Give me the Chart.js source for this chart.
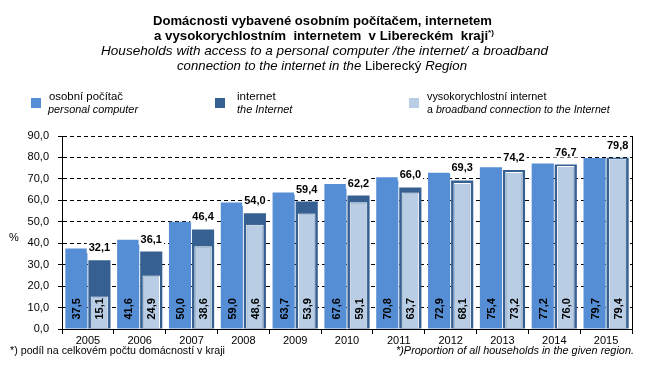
<!DOCTYPE html>
<html>
<head>
<meta charset="utf-8">
<script src="https://cdn.jsdelivr.net/npm/chart.js@4/dist/chart.umd.min.js"></script>
<style>
  html, body { margin:0; padding:0; background:#fff; }
  #wrap { position:relative; width:655px; height:375px; overflow:hidden; font-family:"Liberation Sans", Arial, sans-serif; color:#000; }
  canvas { position:absolute; left:0; top:0; }
  .t { position:absolute; white-space:pre; line-height:1; display:inline-block; transform-origin:0 0; }
  .b { font-weight:bold; }
  .i { font-style:italic; }
  .n { font-style:normal; }
  .sq { position:absolute; width:10px; height:10px; }
  sup { font-size:8px; vertical-align:0; position:relative; top:-5px; }
</style>
</head>
<body>
<div id="wrap">
  <canvas id="c" width="655" height="375"></canvas>

  <div class="t b" style="left:152.7px;top:14px;font-size:13px" data-w="339">Domácnosti vybavené osobním počítačem, internetem</div>
  <div class="t b" style="left:154px;top:29px;font-size:13px" data-w="340">a vysokorychlostním  internetem  v Libereckém  kraji<sup>*)</sup></div>
  <div class="t i" style="left:100.7px;top:44px;font-size:13px" data-w="447">Households with access to a personal computer /the internet/ a broadband</div>
  <div class="t i" style="left:177px;top:59px;font-size:13px" data-w="290">connection to the internet in the <span class="n">Liberecký</span> Region</div>

  <div class="sq" style="left:31px;top:98px;background:#558ED5"></div>
  <div class="t" style="left:49.3px;top:90.7px;font-size:11px" data-w="74">osobní počítač</div>
  <div class="t i" style="left:48.3px;top:104px;font-size:11px" data-w="90">personal computer</div>

  <div class="sq" style="left:215px;top:98px;background:#376092"></div>
  <div class="t" style="left:237.3px;top:90.7px;font-size:11px" data-w="38.7">internet</div>
  <div class="t i" style="left:237.3px;top:104px;font-size:11px" data-w="55.4">the Internet</div>

  <div class="sq" style="left:409px;top:98px;background:#B9CDE5"></div>
  <div class="t" style="left:427.3px;top:90.7px;font-size:11px" data-w="119.4">vysokorychlostní internet</div>
  <div class="t" style="left:427.3px;top:104px;font-size:11px" data-w="182.7">a <span class="i">broadband connection to the Internet</span></div>

  <div class="t" style="left:9px;top:231.7px;font-size:11px">%</div>

  <div class="t" style="left:10.4px;top:345px;font-size:10.5px" data-w="215">*) podíl na celkovém počtu domácností v kraji</div>
  <div class="t i" style="left:396px;top:345px;font-size:10.5px" data-w="238">*)Proportion of all households in the given region.</div>
</div>
<script>
// ---- data ----
const years = ['2005','2006','2007','2008','2009','2010','2011','2012','2013','2014','2015'];
const pcValues = [37.5, 41.6, 50.0, 59.0, 63.7, 67.6, 70.8, 72.9, 75.4, 77.2, 79.7];
const internetValues = [32.1, 36.1, 46.4, 54.0, 59.4, 62.2, 66.0, 69.3, 74.2, 76.7, 79.8];
const broadbandValues = [15.1, 24.9, 38.6, 48.6, 53.9, 59.1, 63.7, 68.1, 73.2, 76.0, 79.4];
const yMin = 0, yMax = 90, yStep = 10;

const fmt = v => v.toFixed(1).replace('.', ',');

// fit text widths
document.querySelectorAll('.t[data-w]').forEach(el => {
  const w = el.getBoundingClientRect().width;
  const target = parseFloat(el.dataset.w);
  if (w > 0) el.style.transform = 'scaleX(' + (target / w) + ')';
});

const FONT = '"Liberation Sans", Arial, sans-serif';

const valueLabels = {
  id: 'valueLabels',
  afterDatasetsDraw(chart) {
    const ctx = chart.ctx;
    ctx.save();
    ctx.font = 'bold 11px ' + FONT;
    [[0, pcValues], [2, broadbandValues]].forEach(([di, vals]) => {
      chart.getDatasetMeta(di).data.forEach((bar, i) => {
        ctx.save();
        ctx.fillStyle = '#000';
        ctx.translate(bar.x + 1, bar.base - 9);
        ctx.rotate(-Math.PI / 2);
        ctx.textAlign = 'left';
        ctx.textBaseline = 'middle';
        ctx.fillText(fmt(vals[i]), 0, 0);
        ctx.restore();
      });
    });
    chart.getDatasetMeta(1).data.forEach((bar, i) => {
      const txt = fmt(internetValues[i]);
      const w = ctx.measureText(txt).width;
      const bx = bar.x, by = bar.y - 9;
      ctx.fillStyle = '#fff';
      ctx.fillRect(bx - w / 2 - 2, by - 10, w + 4, 12);
      ctx.fillStyle = '#000';
      ctx.textAlign = 'center';
      ctx.textBaseline = 'alphabetic';
      ctx.fillText(txt, bx, by);
    });
    ctx.restore();
  }
};

const frame = {
  id: 'frame',
  afterDraw(chart) {
    const {ctx, chartArea} = chart;
    ctx.save();
    ctx.strokeStyle = '#000';
    ctx.lineWidth = 1;
    const x = Math.round(chartArea.right) + 0.5;
    ctx.beginPath();
    ctx.moveTo(x, chartArea.top);
    ctx.lineTo(x, chartArea.bottom);
    ctx.stroke();
    ctx.restore();
  }
};

new Chart(document.getElementById('c'), {
  type: 'bar',
  data: {
    labels: years,
    datasets: [
      { label: 'osobní počítač', data: pcValues, stack: 'a', order: 0,
        backgroundColor: '#558ED5', categoryPercentage: 0.89, barPercentage: 0.96 },
      { label: 'internet', data: internetValues, stack: 'b', order: 1,
        backgroundColor: '#376092', categoryPercentage: 0.89, barPercentage: 0.96 },
      { label: 'vysokorychlostní internet', data: broadbandValues, stack: 'b', order: 0,
        backgroundColor: '#B9CDE5', borderColor: '#FFFFFF',
        borderWidth: { top: 1, left: 1, right: 1, bottom: 0 }, borderSkipped: 'start',
        categoryPercentage: 0.89, barPercentage: 0.76 }
    ]
  },
  options: {
    responsive: false,
    animation: false,
    events: [],
    layout: { padding: { left: 0, right: 23, top: 136, bottom: 0 } },
    plugins: { legend: { display: false }, title: { display: false }, tooltip: { enabled: false } },
    scales: {
      x: {
        type: 'category', offset: true,
        grid: { display: true, drawOnChartArea: false, offset: true, color: '#000', tickColor: '#000', tickLength: 5, lineWidth: 1 },
        border: { display: true, color: '#000', width: 1 },
        ticks: { color: '#000', font: { family: FONT, size: 11 }, padding: 0, maxRotation: 0, autoSkip: false },
        afterFit(s) { s.height = 46; }
      },
      y: {
        min: yMin, max: yMax, stacked: false,
        ticks: { stepSize: yStep, callback: v => fmt(v), color: '#000', font: { family: FONT, size: 11 }, padding: 9 },
        grid: { color: '#000', lineWidth: 1, tickLength: 4, tickColor: '#000', tickBorderDash: [] },
        border: { display: true, color: '#000', width: 1, dash: [4, 3] },
        afterFit(s) { s.width = 62; }
      }
    }
  },
  plugins: [valueLabels, frame]
});
</script>
</body>
</html>
